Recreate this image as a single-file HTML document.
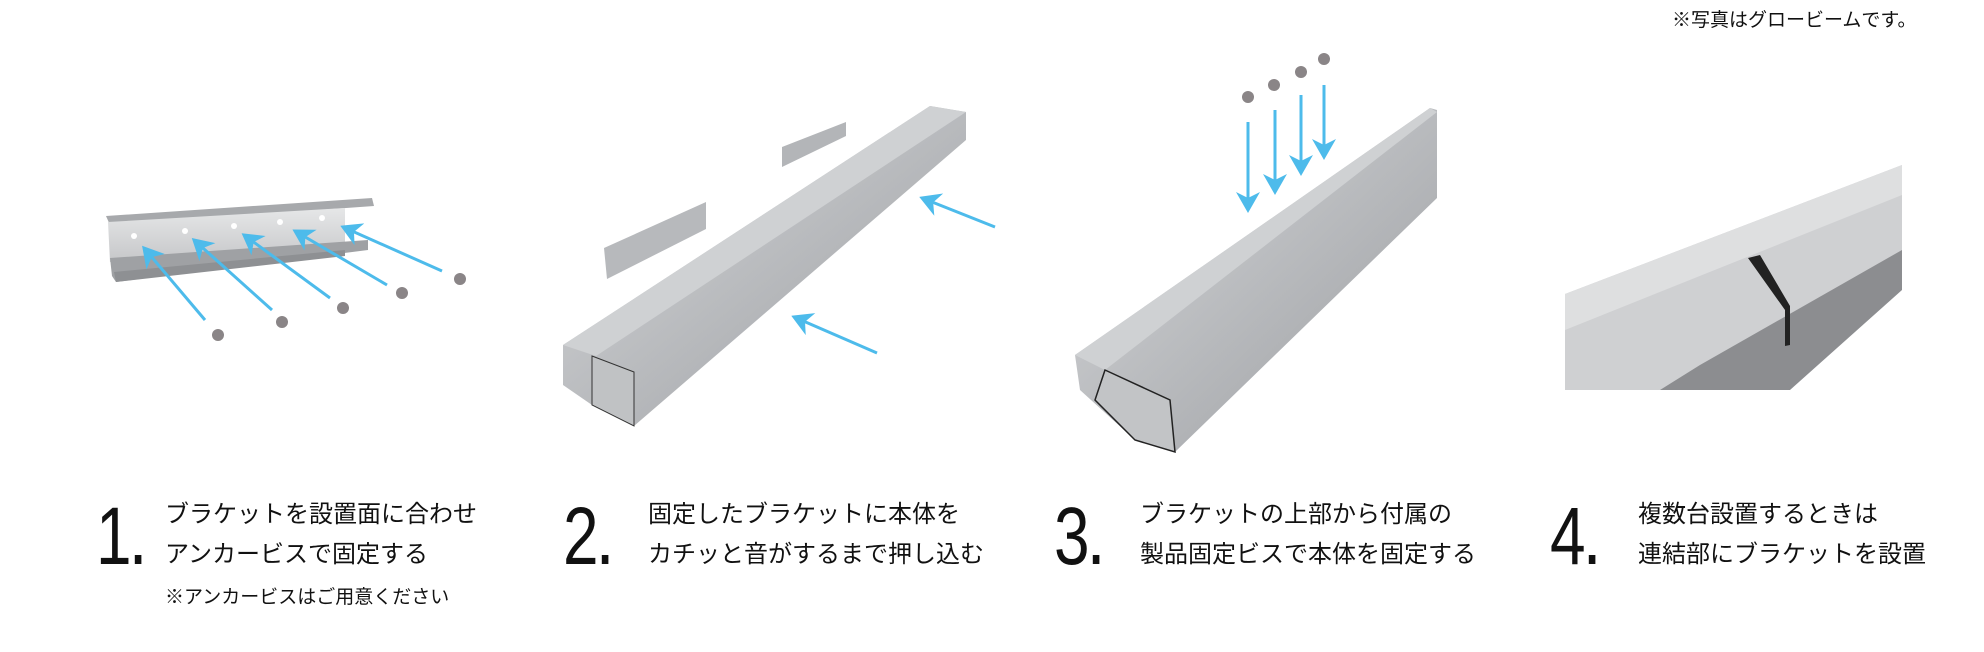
<!DOCTYPE html>
<html><head><meta charset="utf-8"><style>
html,body{margin:0;padding:0;background:#fff;}
body{width:1984px;height:652px;position:relative;overflow:hidden;font-family:"Liberation Sans","Noto Sans CJK JP",sans-serif;color:#111;}
.num{position:absolute;font-size:82px;line-height:1;font-weight:300;transform-origin:0 0;transform:scaleX(0.78);}
.num span{font-size:60px;font-weight:700;}
.t{position:absolute;font-size:24px;line-height:1;white-space:nowrap;}
.s{position:absolute;font-size:19px;line-height:1;white-space:nowrap;}
svg{position:absolute;left:0;top:0;}
</style></head><body>
<svg width="1984" height="652" viewBox="0 0 1984 652">
<defs>
<linearGradient id="al" x1="0" y1="0" x2="1" y2="1">
<stop offset="0" stop-color="#d9dadc"/><stop offset="0.5" stop-color="#b9bbbe"/><stop offset="1" stop-color="#9a9ca0"/></linearGradient>
<linearGradient id="al2" x1="0" y1="0" x2="0" y2="1">
<stop offset="0" stop-color="#e6e7e8"/><stop offset="1" stop-color="#c6c7c9"/></linearGradient>
<marker id="ad" markerWidth="8" markerHeight="8" refX="7" refY="4" orient="auto" markerUnits="strokeWidth">
<path d="M8,4 L1,0 L3,4 L1,8 Z" fill="#4dbbeb"/></marker>
</defs>
<!-- step1 bracket -->
<polygon points="106,216 372,198 374,206 110,225" fill="#a7a9ac"/>
<polygon points="108,222 345,208 345,245 110,262" fill="url(#al2)"/>
<polygon points="110,258 368,240 368,250 116,282 112,276" fill="#9fa1a4"/>
<polygon points="114,272 345,250 345,256 116,282" fill="#8e9093"/>
<g fill="#fff"><circle cx="134" cy="236" r="3"/><circle cx="185" cy="231" r="3"/><circle cx="234" cy="226" r="3"/><circle cx="280" cy="222" r="3"/><circle cx="322" cy="218" r="3"/></g>
<g fill="#8a8587"><circle cx="218" cy="335" r="6"/><circle cx="282" cy="322" r="6"/><circle cx="343" cy="308" r="6"/><circle cx="402" cy="293" r="6"/><circle cx="460" cy="279" r="6"/></g>
<g stroke="#4dbbeb" stroke-width="3" fill="none" marker-end="url(#ad)">
<line x1="205" y1="320" x2="144" y2="248"/><line x1="272" y1="310" x2="194" y2="240"/><line x1="330" y1="298" x2="244" y2="235"/><line x1="387" y1="285" x2="295" y2="231"/><line x1="442" y1="271" x2="343" y2="227"/>
</g>
<!-- step2 -->
<polygon points="563,345 930,106 966,112 966,140 634,426 592,405 563,385" fill="url(#al)"/>
<polygon points="563,345 930,106 966,112 596,356" fill="#cfd1d3"/>
<polygon points="592,356 634,372 634,426 592,405" fill="#c0c2c4" stroke="#333" stroke-width="1"/>
<polygon points="782,147 846,122 846,136 782,167" fill="#b3b5b8"/>
<polygon points="604,248 706,202 706,229 607,279" fill="#b7b9bc"/>
<g stroke="#4dbbeb" stroke-width="3" fill="none" marker-end="url(#ad)">
<line x1="995" y1="227" x2="922" y2="198"/><line x1="877" y1="353" x2="794" y2="317"/></g>
<!-- step3 -->
<polygon points="1075,355 1430,108 1437,110 1437,198 1175,452 1135,440 1080,390" fill="url(#al)"/>
<polygon points="1075,355 1430,108 1437,112 1105,370" fill="#cfd1d3"/>
<polygon points="1105,370 1170,400 1175,452 1135,440 1095,400" fill="#c2c4c6" stroke="#222" stroke-width="1.5"/>
<g fill="#8a8587"><circle cx="1248" cy="97" r="6"/><circle cx="1274" cy="85" r="6"/><circle cx="1301" cy="72" r="6"/><circle cx="1324" cy="59" r="6"/></g>
<g stroke="#4dbbeb" stroke-width="3" fill="none" marker-end="url(#ad)">
<line x1="1248" y1="122" x2="1248" y2="210"/><line x1="1275" y1="110" x2="1275" y2="192"/><line x1="1301" y1="95" x2="1301" y2="173"/><line x1="1324" y1="85" x2="1324" y2="157"/></g>
<!-- step4 -->
<polygon points="1565,294 1902,165 1902,287 1780,390 1565,390" fill="#cfd0d2"/>
<polygon points="1565,294 1902,165 1902,195 1565,330" fill="#dedfe0"/>
<polygon points="1902,250 1902,290 1790,390 1660,390 1700,365" fill="#8c8d90"/>
<polygon points="1748,258 1760,255 1790,306 1790,345 1785,346 1785,310" fill="#222"/>
</svg>
<div class="s" style="left:1672px;top:11px;">※写真はグロービームです。</div>

<div class="num" style="left:96px;top:496px;">1<span>.</span></div>
<div class="t" style="left:165px;top:503px;">ブラケットを設置面に合わせ</div>
<div class="t" style="left:165px;top:543px;">アンカービスで固定する</div>
<div class="s" style="left:165px;top:588px;">※アンカービスはご用意ください</div>

<div class="num" style="left:563px;top:496px;">2<span>.</span></div>
<div class="t" style="left:648px;top:503px;">固定したブラケットに本体を</div>
<div class="t" style="left:648px;top:543px;">カチッと音がするまで押し込む</div>

<div class="num" style="left:1054px;top:496px;">3<span>.</span></div>
<div class="t" style="left:1140px;top:503px;">ブラケットの上部から付属の</div>
<div class="t" style="left:1140px;top:543px;">製品固定ビスで本体を固定する</div>

<div class="num" style="left:1550px;top:496px;">4<span>.</span></div>
<div class="t" style="left:1638px;top:503px;">複数台設置するときは</div>
<div class="t" style="left:1638px;top:543px;">連結部にブラケットを設置</div>
</body></html>
